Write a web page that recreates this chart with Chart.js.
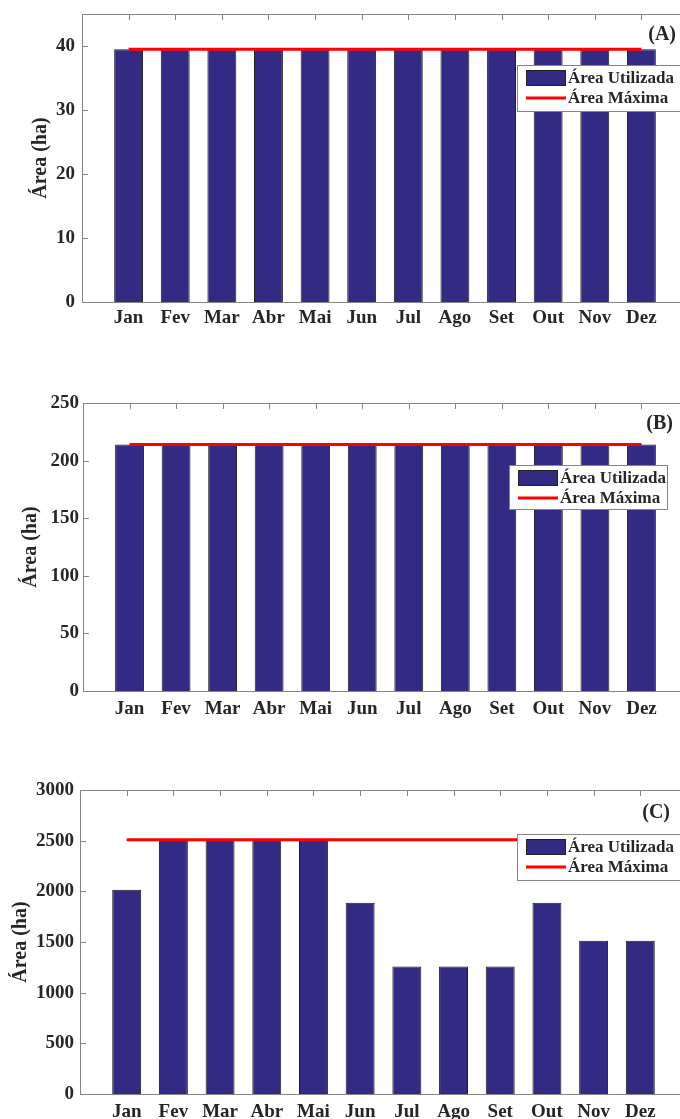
<!DOCTYPE html>
<html>
<head>
<meta charset="utf-8">
<script src="https://cdn.jsdelivr.net/npm/chart.js@4"></script>
<style>
  html, body { margin: 0; padding: 0; background: #fff; overflow: hidden; }
  body { width: 680px; height: 1119px; position: relative; }
  canvas { position: absolute; left: 0; }
</style>
</head>
<body>
<canvas id="chartA" width="700" height="335" style="top:0px"></canvas>
<canvas id="chartB" width="700" height="340" style="top:390px"></canvas>
<canvas id="chartC" width="700" height="349" style="top:770px"></canvas>
<script>
// months on the x axis
var months = ['Jan', 'Fev', 'Mar', 'Abr', 'Mai', 'Jun', 'Jul', 'Ago', 'Set', 'Out', 'Nov', 'Dez'];

// (A)
var usedA = [39.5, 39.5, 39.5, 39.5, 39.5, 39.5, 39.5, 39.5, 39.5, 39.5, 39.5, 39.5];
var maxA = [39.5, 39.5, 39.5, 39.5, 39.5, 39.5, 39.5, 39.5, 39.5, 39.5, 39.5, 39.5];
var ticksA = [0, 10, 20, 30, 40];

// (B)
var usedB = [214, 214, 214, 214, 214, 214, 214, 214, 214, 214, 214, 214];
var maxB = [214, 214, 214, 214, 214, 214, 214, 214, 214, 214, 214, 214];
var ticksB = [0, 50, 100, 150, 200, 250];

// (C)
var usedC = [2015, 2510, 2510, 2510, 2510, 1888, 1257, 1257, 1257, 1888, 1512, 1512];
var maxC = [2510, 2510, 2510, 2510, 2510, 2510, 2510, 2510, 2510, 2510, 2510, 2510];
var ticksC = [0, 500, 1000, 1500, 2000, 2500, 3000];

var serif = '"Liberation Serif", "Times New Roman", serif';
var textColor = '#262626';
var axisColor = '#858585';

// box around the plot with inward ticks, like matlab
var framePlugin = {
    id: 'frame',
    beforeDatasetsDraw: function (chart) {
        var ctx = chart.ctx, a = chart.chartArea;
        var xs = chart.scales.x, ys = chart.scales.y;
        ctx.save();
        ctx.strokeStyle = axisColor;
        ctx.lineWidth = 1;
        ctx.strokeRect(Math.round(a.left) + 0.5, Math.round(a.top) + 0.5, Math.round(a.right - a.left), Math.round(a.bottom - a.top));
        ctx.beginPath();
        ys.ticks.forEach(function (t) {
            var y = Math.round(ys.getPixelForValue(t.value)) + 0.5;
            ctx.moveTo(a.left, y); ctx.lineTo(a.left + 6, y);
            ctx.moveTo(a.right, y); ctx.lineTo(a.right - 6, y);
        });
        for (var i = 1; i <= months.length; i++) {
            var x = Math.round(xs.getPixelForValue(i)) + 0.5;
            ctx.moveTo(x, a.top); ctx.lineTo(x, a.top + 6);
            ctx.moveTo(x, a.bottom); ctx.lineTo(x, a.bottom - 6);
        }
        ctx.stroke();
        ctx.restore();
    },
    afterDraw: function (chart, args, opts) {
        var ctx = chart.ctx;
        var lg = opts.legend;
        var ds = chart.data.datasets;
        ctx.save();
        // legend box
        ctx.fillStyle = '#fff';
        ctx.fillRect(lg.x, lg.y, lg.w, lg.h);
        ctx.strokeStyle = axisColor;
        ctx.lineWidth = 1;
        ctx.strokeRect(lg.x + 0.5, lg.y + 0.5, lg.w, lg.h);
        var bar = ds[1], line = ds[0];
        ctx.fillStyle = bar.backgroundColor;
        ctx.fillRect(lg.x + 9, lg.y + 5, 39, 15);
        ctx.strokeStyle = '#222';
        ctx.strokeRect(lg.x + 9.5, lg.y + 5.5, 39, 15);
        ctx.strokeStyle = line.borderColor;
        ctx.lineWidth = 3;
        ctx.beginPath();
        ctx.moveTo(lg.x + 9, lg.y + 33);
        ctx.lineTo(lg.x + 49, lg.y + 33);
        ctx.stroke();
        ctx.fillStyle = textColor;
        ctx.font = 'bold 17px ' + serif;
        ctx.textBaseline = 'middle';
        ctx.textAlign = 'left';
        ctx.fillText(bar.label, lg.x + 51, lg.y + 14);
        ctx.fillText(line.label, lg.x + 51, lg.y + 34);
        // panel tag
        ctx.font = 'bold 20px ' + serif;
        ctx.textAlign = 'right';
        ctx.fillText(opts.tag.text, opts.tag.x, opts.tag.y);
        ctx.restore();
    }
};

function makeChart(id, used, maxLine, yTicks, geo) {
    var ctx = document.getElementById(id).getContext('2d');
    var yMax = yTicks[yTicks.length - 1];
    return new Chart(ctx, {
        type: 'bar',
        data: {
            datasets: [{
                type: 'line',
                label: 'Área Máxima',
                data: months.map(function (m, i) { return { x: i + 1, y: maxLine[i] }; }),
                borderColor: '#ff0000',
                borderWidth: 3,
                pointRadius: 0,
                order: 0
            }, {
                label: 'Área Utilizada',
                data: months.map(function (m, i) { return { x: i + 1, y: used[i] }; }),
                backgroundColor: '#332a83',
                borderColor: '#1e1e1e',
                borderWidth: 1,
                barPercentage: 0.62,
                categoryPercentage: 1,
                order: 1
            }]
        },
        options: {
            responsive: false,
            animation: false,
            events: [],
            layout: { padding: { left: 0, right: geo.padRight, top: geo.padTop, bottom: 0 } },
            plugins: {
                legend: { display: false },
                tooltip: { enabled: false },
                frame: { legend: geo.legend, tag: geo.tag }
            },
            scales: {
                x: {
                    type: 'linear',
                    offset: false,
                    min: 0,
                    max: months.length + 1,
                    afterBuildTicks: function (s) {
                        s.ticks = months.map(function (m, i) { return { value: i + 1 }; });
                    },
                    afterFit: function (s) {
                        s.height = geo.xHeight;
                        s.paddingLeft = 0;
                        s.paddingRight = 0;
                    },
                    grid: { display: false, drawTicks: false },
                    border: { display: false },
                    ticks: {
                        autoSkip: false,
                        maxRotation: 0,
                        padding: geo.xPad,
                        color: textColor,
                        font: { family: serif, size: 19, weight: 'bold' },
                        callback: function (v) { return months[v - 1] || ''; }
                    }
                },
                y: {
                    min: 0,
                    max: geo.yMax || yMax,
                    afterBuildTicks: function (s) {
                        s.ticks = yTicks.map(function (v) { return { value: v }; });
                    },
                    afterFit: function (s) {
                        s.width = geo.yWidth;
                        s.paddingTop = 0;
                        s.paddingBottom = 0;
                    },
                    grid: { display: false, drawTicks: false },
                    border: { display: false },
                    title: {
                        display: true,
                        text: 'Área (ha)',
                        color: textColor,
                        font: { family: serif, size: 20, weight: 'bold' },
                        padding: { top: geo.titlePad, bottom: 0 }
                    },
                    ticks: {
                        padding: geo.yPad,
                        color: textColor,
                        font: { family: serif, size: 19, weight: 'bold' },
                        callback: function (v) { return String(v); }
                    }
                }
            }
        },
        plugins: [framePlugin]
    });
}

makeChart('chartA', usedA, maxA, ticksA, {
    yMax: 45, yWidth: 82, padRight: 12, padTop: 14, xHeight: 33, xPad: 5, yPad: 7, titlePad: 29,
    legend: { x: 517, y: 65, w: 164, h: 46 }, tag: { text: '(A)', x: 676, y: 35 }
});
makeChart('chartB', usedB, maxB, ticksB, {
    yWidth: 83, padRight: 12, padTop: 13, xHeight: 39, xPad: 7, yPad: 4, titlePad: 19,
    legend: { x: 509, y: 75, w: 158, h: 44 }, tag: { text: '(B)', x: 673, y: 34 }
});
makeChart('chartC', usedC, maxC, ticksC, {
    yWidth: 80, padRight: 13, padTop: 20, xHeight: 25, xPad: 7, yPad: 6, titlePad: 9,
    legend: { x: 517, y: 64, w: 165, h: 46 }, tag: { text: '(C)', x: 670, y: 43 }
});
</script>
</body>
</html>
